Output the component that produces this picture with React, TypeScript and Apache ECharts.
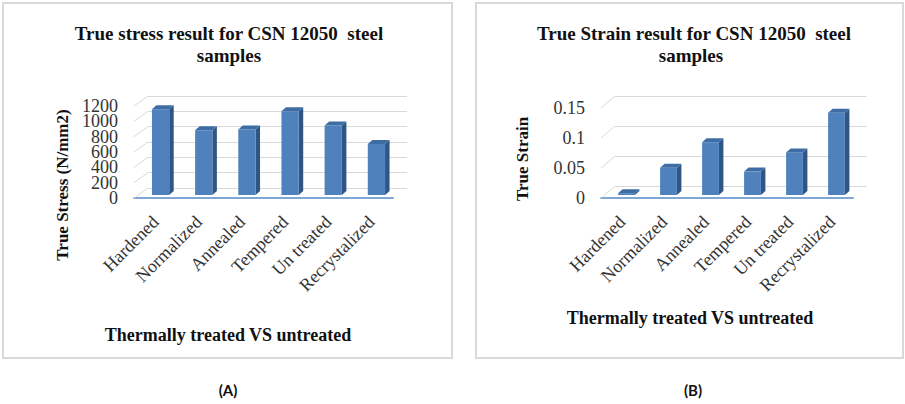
import React, { useEffect, useRef } from "react";
import * as echarts from "echarts";

const categories = ["Hardened", "Normalized", "Annealed", "Tempered", "Un treated", "Recrystalized"];
const trueStress = [1120, 845, 855, 1092, 906, 665];
const trueStrain = [0.003, 0.0455, 0.088, 0.039, 0.071, 0.137];
const stressTicks = [0, 200, 400, 600, 800, 1000, 1200];
const strainTicks = [0, 0.05, 0.1, 0.15];

const SERIF = "Liberation Serif";
const FRONT = "#4F81BD";
const TOP = "#3E6DA6";
const SIDE = "#2F5587";
const GRID = "#D9D9D9";

function barRenderer(ox: number, oy: number, dx: number, dy: number) {
  return (params: any, api: any) => {
    const i = api.value(0);
    const v = api.value(1);
    const base = api.coord([i, 0]);
    const top = api.coord([i, v]);
    const bw = api.size([1, 0])[0] * 0.4;
    const xL = base[0] + ox - bw / 2;
    const xR = xL + bw;
    const yB = base[1] + oy;
    const yT = top[1] + oy;
    return {
      type: "group",
      children: [
        {
          type: "polygon",
          shape: { points: [[xR, yT], [xR + dx, yT + dy], [xR + dx, yB + dy], [xR, yB]] },
          style: { fill: SIDE },
        },
        {
          type: "rect",
          shape: { x: xL, y: yT, width: bw, height: Math.max(yB - yT, 0) },
          style: { fill: FRONT },
        },
        {
          type: "polygon",
          shape: { points: [[xL, yT], [xL + dx, yT + dy], [xR + dx, yT + dy], [xR, yT]] },
          style: { fill: TOP },
        },
      ],
    };
  };
}

// side-wall gridline plus (optionally) the tick label at the front plane
function wallRenderer(dx: number, dy: number, withLabel: boolean) {
  return (params: any, api: any) => {
    const v = api.value(0);
    const p = api.coord([0, v]);
    const x = params.coordSys.x;
    const children: any[] = [
      {
        type: "line",
        shape: { x1: x, y1: p[1], x2: x + dx, y2: p[1] + dy },
        style: { stroke: GRID, lineWidth: 1 },
      },
    ];
    if (withLabel) {
      children.push({
        type: "text",
        x: x - 16,
        y: p[1],
        style: {
          text: String(v),
          fontFamily: SERIF,
          fontSize: 18,
          lineHeight: 14,
          fill: "#333",
          textAlign: "right",
          textVerticalAlign: "middle",
        },
      });
    }
    return { type: "group", children };
  };
}

function txt(x: number, y: number, text: string, size: number, extra: any = {}) {
  return {
    type: "text",
    x,
    y,
    ...extra,
    style: {
      text,
      fontFamily: extra.family || SERIF,
      fontWeight: "bold",
      fontSize: size,
      fill: "#111",
      textAlign: "center",
      textVerticalAlign: "middle",
    },
  };
}

export default function App() {
  const ref = useRef<HTMLDivElement>(null);
  useEffect(() => {
    if (!ref.current) return;
    const chart = echarts.init(ref.current, null, { renderer: "svg" });
    const xLabel = {
      rotate: 45,
      interval: 0,
      margin: 21,
      fontFamily: SERIF,
      fontSize: 18,
      color: "#333",
    };
    const yLabel = {
      fontFamily: SERIF,
      fontSize: 18,
      color: "#333",
      margin: 16,
      showMinLabel: true,
      showMaxLabel: true,
      formatter: (v: number) => String(v),
    };
    const option: any = {
      animation: false,
      backgroundColor: "#fff",
      grid: [
        { left: 134, top: 106, width: 259, height: 92 },
        { left: 148, top: 96, width: 259, height: 92 },
        { left: 601, top: 108, width: 252, height: 90 },
        { left: 614.5, top: 96.5, width: 252, height: 90 },
      ],
      xAxis: [
        {
          gridIndex: 0,
          type: "category",
          data: categories,
          axisLine: { lineStyle: { color: "#7DA7D9", width: 2 } },
          axisTick: { show: false },
          axisLabel: xLabel,
        },
        { gridIndex: 1, type: "category", data: categories, show: false },
        {
          gridIndex: 2,
          type: "category",
          data: categories,
          axisLine: { lineStyle: { color: "#7DA7D9", width: 2 } },
          axisTick: { show: false },
          axisLabel: xLabel,
        },
        { gridIndex: 3, type: "category", data: categories, show: false },
      ],
      yAxis: [
        {
          gridIndex: 0,
          type: "value",
          min: 0,
          max: 1200,
          interval: 200,
          axisLine: { show: false },
          axisTick: { show: false },
          splitLine: { show: false },
          axisLabel: { show: false },
        },
        {
          gridIndex: 1,
          type: "value",
          min: 0,
          max: 1200,
          interval: 200,
          axisLine: { show: false },
          axisTick: { show: false },
          axisLabel: { show: false },
          splitLine: { show: true, lineStyle: { color: GRID, width: 1 } },
        },
        {
          gridIndex: 2,
          type: "value",
          min: 0,
          max: 0.15,
          interval: 0.05,
          axisLine: { show: false },
          axisTick: { show: false },
          splitLine: { show: false },
          axisLabel: yLabel,
        },
        {
          gridIndex: 3,
          type: "value",
          min: 0,
          max: 0.15,
          interval: 0.05,
          axisLine: { show: false },
          axisTick: { show: false },
          axisLabel: { show: false },
          splitLine: { show: true, lineStyle: { color: GRID, width: 1 } },
        },
      ],
      series: [
        {
          type: "custom",
          xAxisIndex: 0,
          yAxisIndex: 0,
          data: stressTicks.map((t) => [t]),
          encode: { y: 0 },
          renderItem: wallRenderer(14, -10, true),
          silent: true,
          z: 1,
        },
        {
          type: "custom",
          xAxisIndex: 0,
          yAxisIndex: 0,
          data: trueStress.map((v, i) => [i, v]),
          renderItem: barRenderer(5, -3, 4.5, -4),
          z: 3,
        },
        {
          type: "custom",
          xAxisIndex: 2,
          yAxisIndex: 2,
          data: strainTicks.map((t) => [t]),
          encode: { y: 0 },
          renderItem: wallRenderer(13.5, -11.5, false),
          silent: true,
          z: 1,
        },
        {
          type: "custom",
          xAxisIndex: 2,
          yAxisIndex: 2,
          data: trueStrain.map((v, i) => [i, v]),
          renderItem: barRenderer(4.5, -3, 4.5, -4),
          z: 3,
        },
      ],
      graphic: [
        { type: "rect", shape: { x: 3, y: 3, width: 449, height: 355 }, style: { fill: "none", stroke: "#D9D9D9", lineWidth: 2 }, z: -1 },
        { type: "rect", shape: { x: 476, y: 3, width: 427, height: 355 }, style: { fill: "none", stroke: "#D9D9D9", lineWidth: 2 }, z: -1 },
        txt(229, 33, "True stress result for CSN 12050  steel", 19),
        txt(229, 55, "samples", 19),
        txt(694, 33, "True Strain result for CSN 12050  steel", 19),
        txt(691, 55, "samples", 19),
        txt(62, 185, "True Stress (N/mm2)", 17, { rotation: Math.PI / 2 }),
        txt(522, 159, "True Strain", 17, { rotation: Math.PI / 2 }),
        txt(228, 335, "Thermally treated VS untreated", 18),
        txt(690, 318, "Thermally treated VS untreated", 18),
        txt(228, 390, "(A)", 15, { family: "Lato" }),
        txt(693, 390, "(B)", 15, { family: "Lato" }),
      ],
    };
    chart.setOption(option);
    return () => chart.dispose();
  }, []);
  return (
    <div
      ref={ref}
      style={{ position: "fixed", left: 0, top: 0, width: 905, height: 404, background: "#fff" }}
    />
  );
}
